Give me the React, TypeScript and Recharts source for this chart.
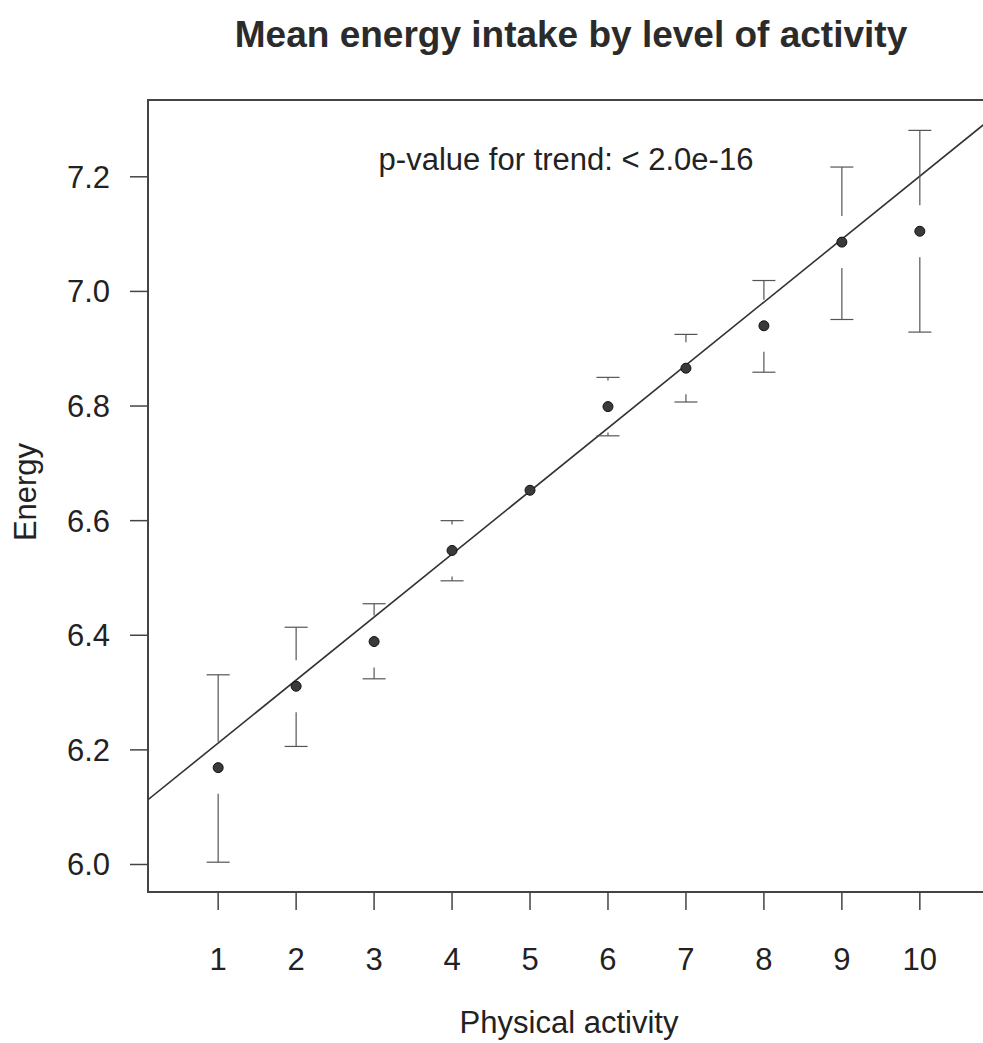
import { ComposedChart, Scatter, Line, XAxis, YAxis, ReferenceArea } from "recharts";

// layout
const W = 1000;
const H = 1043;
const MARGIN = { top: 100, right: 10, bottom: 91, left: 0 };
const X_AXIS_H = 60;
const Y_AXIS_W = 148;
const FONT = "'Liberation Sans', Arial, Helvetica, sans-serif";

// data
const activity = [1, 2, 3, 4, 5, 6, 7, 8, 9, 10];
const meanEnergy = [6.169, 6.311, 6.389, 6.548, 6.653, 6.799, 6.866, 6.94, 7.086, 7.105];
const lowerCI = [6.004, 6.206, 6.324, 6.495, 6.635, 6.748, 6.807, 6.859, 6.951, 6.929];
const upperCI = [6.331, 6.414, 6.455, 6.6, 6.67, 6.85, 6.925, 7.019, 7.217, 7.281];
const trendActivity = [0.1, 10.9];
const trendEnergy = [6.113, 7.3];
const xTicks = [1, 2, 3, 4, 5, 6, 7, 8, 9, 10];
const yTicks = [6.0, 6.2, 6.4, 6.6, 6.8, 7.0, 7.2];
const X_DOMAIN: [number, number] = [0.1, 10.9];
const Y_DOMAIN: [number, number] = [5.952, 7.334];

const points = activity.map((x, i) => ({ x, mean: meanEnergy[i], lo: lowerCI[i], hi: upperCI[i] }));
const trend = trendActivity.map((x, i) => ({ x, fit: trendEnergy[i] }));

const PX_PER_UNIT = (H - MARGIN.top - MARGIN.bottom - X_AXIS_H) / (Y_DOMAIN[1] - Y_DOMAIN[0]);
const GAP = 26; // empty space around each point, like plotCI(gap=)
const CAP = 11.5;

function MeanWithCI(props: any) {
  const { cx, cy, payload } = props;
  const yHi = cy - (payload.hi - payload.mean) * PX_PER_UNIT;
  const yLo = cy + (payload.mean - payload.lo) * PX_PER_UNIT;
  const bar = { stroke: "#555", strokeWidth: 1.2 };
  return (
    <g>
      {cy - yHi > GAP && (
        <g>
          <line x1={cx} x2={cx} y1={yHi} y2={cy - GAP} {...bar} />
          <line x1={cx - CAP} x2={cx + CAP} y1={yHi} y2={yHi} {...bar} />
        </g>
      )}
      {yLo - cy > GAP && (
        <g>
          <line x1={cx} x2={cx} y1={cy + GAP} y2={yLo} {...bar} />
          <line x1={cx - CAP} x2={cx + CAP} y1={yLo} y2={yLo} {...bar} />
        </g>
      )}
      <circle cx={cx} cy={cy} r={5} fill="#3a3a3a" stroke="#111" strokeWidth={1} />
    </g>
  );
}

export default function App() {
  const tick = { fontSize: 31, fill: "#222", fontFamily: FONT };
  return (
    <div style={{ position: "absolute", left: 0, top: 0, width: 983, height: H, overflow: "hidden", background: "#fff" }}>
      <ComposedChart width={W} height={H} margin={MARGIN}>
        <XAxis
          type="number"
          dataKey="x"
          domain={X_DOMAIN}
          ticks={xTicks}
          allowDataOverflow
          height={X_AXIS_H}
          axisLine={false}
          tickSize={18}
          tickMargin={38}
          tickLine={{ stroke: "#444", strokeWidth: 1.5 }}
          tick={tick}
        />
        <YAxis
          type="number"
          domain={Y_DOMAIN}
          ticks={yTicks}
          allowDataOverflow
          width={Y_AXIS_W}
          axisLine={false}
          tickSize={18}
          tickMargin={20}
          tickLine={{ stroke: "#444", strokeWidth: 1.5 }}
          tick={tick}
          tickFormatter={(v: number) => v.toFixed(1)}
        />
        <ReferenceArea
          x1={X_DOMAIN[0]}
          x2={X_DOMAIN[1]}
          y1={Y_DOMAIN[0]}
          y2={Y_DOMAIN[1]}
          fill="none"
          stroke="#444"
          strokeWidth={2}
        />
        <Line
          data={trend}
          dataKey="fit"
          type="linear"
          stroke="#333"
          strokeWidth={1.6}
          dot={false}
          activeDot={false}
          isAnimationActive={false}
        />
        <Scatter data={points} dataKey="mean" shape={MeanWithCI} isAnimationActive={false} />
      </ComposedChart>
      <svg
        width={983}
        height={H}
        style={{ position: "absolute", left: 0, top: 0, pointerEvents: "none" }}
        fontFamily={FONT}
        fill="#222"
      >
        <text x={571} y={47} textAnchor="middle" fontSize={37} fontWeight="bold" fill="#2b2b2b">
          Mean energy intake by level of activity
        </text>
        <text x={566} y={170} textAnchor="middle" fontSize={31}>
          p-value for trend: &lt; 2.0e-16
        </text>
        <text x={569} y={1033} textAnchor="middle" fontSize={31}>
          Physical activity
        </text>
        <text x={36} y={492} textAnchor="middle" fontSize={31} transform="rotate(-90 36 492)">
          Energy
        </text>
      </svg>
    </div>
  );
}
